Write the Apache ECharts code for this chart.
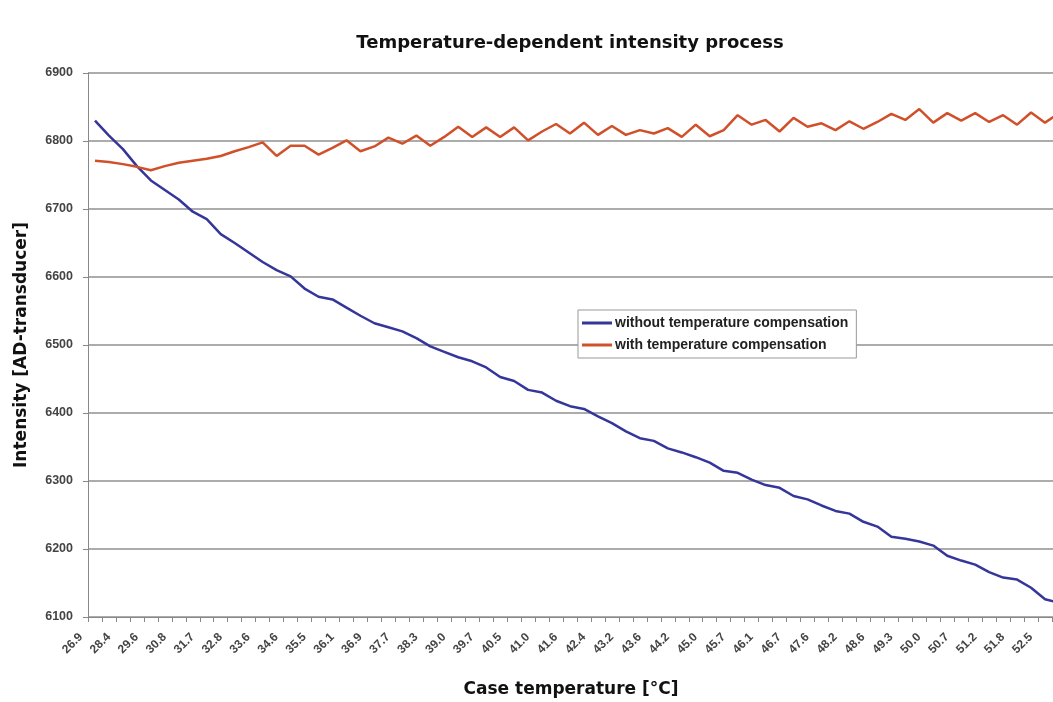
<!DOCTYPE html>
<html>
<head>
<meta charset="utf-8">
<script src="https://cdn.jsdelivr.net/npm/echarts@6/dist/echarts.min.js"></script>
<style>
  html, body { margin: 0; padding: 0; background: #ffffff; }
  #chart { width: 1053px; height: 702px; }
</style>
</head>
<body>
<div id="chart"></div>
<script>
// Tick labels shown on the x axis (every second category carries a label)
const tickLabels = ['26.9','28.4','29.6','30.8','31.7','32.8','33.6','34.6','35.5','36.1',
  '36.9','37.7','38.3','39.0','39.7','40.5','41.0','41.6','42.4','43.2',
  '43.6','44.2','45.0','45.7','46.1','46.7','47.6','48.2','48.6','49.3',
  '50.0','50.7','51.2','51.8','52.5'];

const withoutCompensation = [
  6830,6808,6788,6763,6742,6728,6714,6696,6685,6663,
  6650,6636,6622,6610,6601,6583,6571,6567,6555,6543,
  6532,6526,6520,6510,6498,6490,6482,6476,6467,6453,
  6447,6434,6430,6418,6410,6406,6395,6385,6373,6363,
  6359,6348,6342,6335,6327,6315,6312,6302,6294,6290,
  6278,6273,6264,6256,6252,6240,6233,6218,6215,6211,
  6205,6190,6183,6177,6166,6158,6155,6143,6126,6121];

const withCompensation = [
  6771,6769,6766,6762,6757,6763,6768,6771,6774,6778,
  6785,6791,6798,6778,6793,6793,6780,6790,6801,6785,
  6792,6805,6796,6808,6793,6806,6821,6806,6820,6806,
  6820,6801,6814,6825,6811,6827,6809,6822,6809,6816,
  6811,6819,6806,6824,6807,6816,6838,6824,6831,6814,
  6834,6821,6826,6816,6829,6818,6828,6840,6831,6847,
  6827,6841,6830,6841,6828,6838,6824,6842,6827,6841];

const seriesNames = ['without temperature compensation', 'with temperature compensation'];

// categories: labelled point followed by an unlabelled one
const categories = [];
tickLabels.forEach(t => { categories.push(t); categories.push(''); });

const FONT = '"Liberation Sans", Arial, sans-serif';
const TFONT = '"DejaVu Sans", Verdana, sans-serif';
const chart = echarts.init(document.getElementById('chart'), null, { renderer: 'canvas' });

chart.setOption({
  animation: false,
  backgroundColor: '#ffffff',
  title: {
    text: 'Temperature-dependent intensity process',
    left: 565,
    textAlign: 'center',
    top: 29,
    textStyle: { fontFamily: TFONT, fontSize: 18, fontWeight: 'bold', color: '#111' }
  },
  legend: {
    data: seriesNames.map(n => ({ name: n, icon: 'rect' })),
    orient: 'vertical',
    left: 578,
    top: 310,
    backgroundColor: '#ffffff',
    borderColor: '#999',
    borderWidth: 1,
    padding: [6, 8, 6, 4],
    itemGap: 8,
    itemWidth: 30,
    itemHeight: 3,
    textStyle: { fontFamily: FONT, fontSize: 14, fontWeight: 'bold', color: '#222', padding: [0, 0, 0, -2] }
  },
  grid: { left: 88, width: 978, top: 73, height: 544, outerBoundsMode: 'none', containLabel: false },
  xAxis: {
    type: 'category',
    data: categories,
    boundaryGap: true,
    name: 'Case temperature [°C]',
    nameLocation: 'middle',
    nameGap: 64,
    nameTextStyle: { fontFamily: TFONT, fontSize: 17, fontWeight: 'bold', color: '#111', padding: [0, 12, 0, 0] },
    axisLine: { lineStyle: { color: '#888', width: 1 } },
    axisTick: { show: true, interval: 0, length: 5, lineStyle: { color: '#888' } },
    axisLabel: {
      interval: 1, rotate: 45, margin: 4, padding: [0, 20, 0, 0],
      fontFamily: FONT, fontSize: 12, fontWeight: 'bold', color: '#444'
    },
    splitLine: { show: false }
  },
  yAxis: {
    type: 'value',
    min: 6100, max: 6900, interval: 100,
    name: 'Intensity [AD-transducer]',
    nameLocation: 'middle',
    nameRotate: 90,
    nameGap: 58,
    nameTextStyle: { fontFamily: TFONT, fontSize: 17, fontWeight: 'bold', color: '#111' },
    axisLine: { show: true, lineStyle: { color: '#888', width: 1 } },
    axisTick: { show: true, length: 5, lineStyle: { color: '#888' } },
    axisLabel: {
      margin: 15, fontFamily: FONT, fontSize: 12.5, fontWeight: 'bold', color: '#444',
      formatter: v => String(v)
    },
    splitLine: { show: true, lineStyle: { color: '#909090', width: 1.5 } }
  },
  series: [
    {
      name: seriesNames[0], type: 'line', data: withoutCompensation,
      symbol: 'none', color: '#34369a',
      lineStyle: { width: 2.5, color: '#34369a' }
    },
    {
      name: seriesNames[1], type: 'line', data: withCompensation,
      symbol: 'none', color: '#d0502a',
      lineStyle: { width: 2.5, color: '#d0502a' }
    }
  ]
});
</script>
</body>
</html>
